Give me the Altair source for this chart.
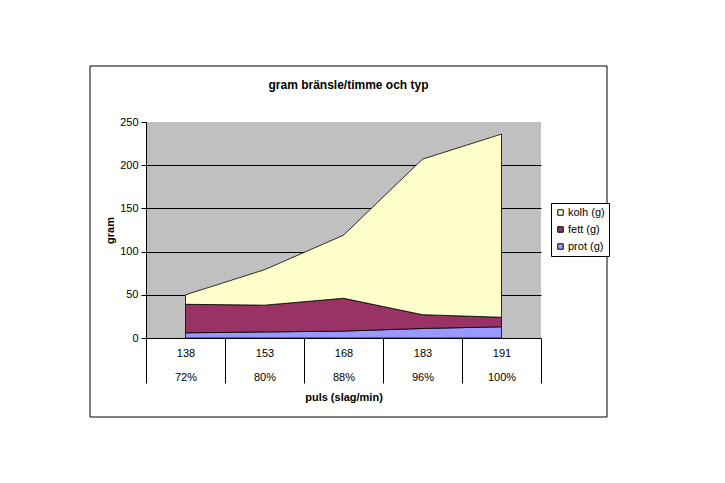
import altair as alt
import pandas as pd

puls = ["138", "153", "168", "183", "191"]
pct = ["72%", "80%", "88%", "96%", "100%"]
series = ["kolh (g)", "fett (g)", "prot (g)"]
colors = ["#ffffcc", "#993366", "#9999ff"]
kolh = [11, 41, 73, 180, 212]
fett = [33, 31, 38, 16, 11]
prot = [6, 7, 8, 11, 13]
y_ticks = [0, 50, 100, 150, 200, 250]

cats = [f"{p}|{q}" for p, q in zip(puls, pct)]
rows = []
for name, vals, order in [("prot (g)", prot, 0), ("fett (g)", fett, 1), ("kolh (g)", kolh, 2)]:
    for c, v in zip(cats, vals):
        rows.append({"cat": c, "serie": name, "value": v, "ord": order})
df = pd.DataFrame(rows)

FONT = "Liberation Sans"
W, H = 395, 216

areas = alt.Chart(df).mark_area(stroke="black", strokeWidth=0.8).encode(
    x=alt.X(
        "cat:O",
        sort=cats,
        bandPosition=0.5,
        scale=alt.Scale(type="band", paddingInner=0, paddingOuter=0),
        axis=alt.Axis(
            title="puls (slag/min)",
            labelAngle=0,
            tickBand="extent",
            tickSize=45,
            tickColor="black",
            domainColor="black",
            labelExpr="split(datum.label, '|')",
            labelLineHeight=24,
            labelPadding=-36,
            labelFont=FONT,
            labelFontSize=11,
            labelColor="black",
            titleFont=FONT,
            titleFontSize=11,
            titleFontWeight="bold",
            titleColor="black",
            titlePadding=8,
            labelOverlap=False,
        ),
    ),
    y=alt.Y(
        "value:Q",
        stack="zero",
        scale=alt.Scale(domain=[0, 250], nice=False),
        axis=alt.Axis(
            title="gram",
            values=y_ticks,
            grid=True,
            gridColor="black",
            gridOpacity={"condition": {"test": "datum.value == 250 || datum.value == 0", "value": 0}, "value": 1},
            tickColor="black",
            tickSize=5,
            domainColor="black",
            labelPadding=3,
            labelFont=FONT,
            labelFontSize=11,
            labelColor="black",
            titleFont=FONT,
            titleFontSize=11,
            titleFontWeight="bold",
            titleColor="black",
            titlePadding=4,
        ),
    ),
    color=alt.Color(
        "serie:N",
        scale=alt.Scale(domain=series, range=colors),
        legend=alt.Legend(
            title=None,
            orient="none",
            legendX=405,
            legendY=81,
            strokeColor="black",
            fillColor="white",
            padding=4,
            symbolType="square",
            symbolSize=30,
            symbolStrokeColor="black",
            symbolStrokeWidth=1,
            labelFont=FONT,
            labelFontSize=11,
            labelColor="black",
            rowPadding=5,
            labelOffset=2,
        ),
    ),
    order=alt.Order("ord:Q"),
)

frame = alt.Chart(alt.Data(values=[{}])).mark_rect(filled=False, stroke="black", strokeWidth=1).encode(
    x=alt.value(-56), x2=alt.value(461), y=alt.value(-56), y2=alt.value(295)
)

chart = alt.layer(areas, frame).properties(
    width=W,
    height=H,
    title=alt.Title(
        "gram bränsle/timme och typ",
        font=FONT,
        fontSize=12,
        fontWeight="bold",
        color="black",
        anchor="middle",
        dx=5,
        offset=-26,
    ),
    autosize=alt.AutoSizeParams(type="none"),
    padding={"left": 138, "top": 114, "right": 167, "bottom": 130},
    background="white",
).configure_view(fill="#c0c0c0", stroke=None)

chart.save("out.html", embed_options={"renderer": "svg", "actions": False})
